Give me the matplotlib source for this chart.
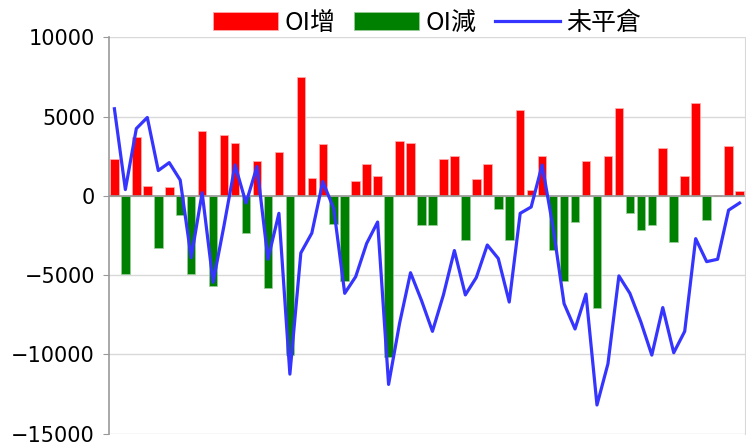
import numpy as np
import matplotlib.pyplot as plt

# OI change per day: positive part (red) and negative part (green), plus the net open-interest line
oi_inc = [2300, 0, 3700, 650, 0, 550, 0, 0, 4100, 0,
          3850, 3350, 0, 2200, 0, 2750, 0, 7500, 1150, 3250,
          0, 0, 950, 2000, 1250, 0, 3450, 3350, 0, 0,
          2300, 2500, 0, 1050, 2000, 0, 0, 5450, 400, 2500,
          0, 0, 0, 2200, 0, 2500, 5550, 0, 0, 0,
          3050, 0, 1250, 5850, 0, 50, 3150, 320]
oi_dec = [0, -4950, 0, 0, -3300, 0, -1200, -4900, 0, -5700,
          0, 0, -2350, 0, -5800, 0, -10050, 0, 0, 0,
          -1750, -5350, 0, 0, 0, -10150, 0, 0, -1850, -1850,
          0, 0, -2800, 0, 0, -800, -2800, 0, 0, 0,
          -3400, -5350, -1650, 0, -7050, 0, 0, -1100, -2150, -1850,
          0, -2900, 0, 0, -1550, 0, 0, 0]
open_pos = [5500, 400, 4250, 4950, 1600, 2100, 1000, -3900, 200, -5450,
            -1850, 1950, -450, 1850, -4000, -1100, -11250, -3600, -2350, 900,
            -800, -6150, -5100, -3000, -1650, -11900, -8050, -4850, -6600, -8550,
            -6250, -3450, -6250, -5150, -3100, -3950, -6700, -1100, -700, 1950,
            -2000, -6800, -8400, -6200, -13200, -10600, -5050, -6150, -7950, -10050,
            -7050, -9900, -8550, -2700, -4150, -4000, -900, -450]

labels = ['OI增', 'OI減', '未平倉']

x = np.arange(len(open_pos))

fig = plt.figure(figsize=(7.46, 4.44), dpi=100)
ax = fig.add_axes([0.146, 0.0236, 0.8527, 0.892])

b1 = ax.bar(x, oi_inc, width=0.78, color='#ff0000', edgecolor='#ffb0b0', linewidth=0.5,
            zorder=2)
b2 = ax.bar(x, oi_dec, width=0.78, color='#008000', edgecolor='#9ccc9c', linewidth=0.5,
            zorder=2)
ln, = ax.plot(x, open_pos, color='#3535ff', linewidth=2.3, zorder=3)

ax.axhline(0, color='#999999', linewidth=1.2, zorder=2.5)

ax.set_xlim(-0.5, len(x) - 0.5)
ax.set_ylim(-15000, 10000)
ax.set_yticks(np.arange(-15000, 10001, 5000))
ax.set_xticks([])
ax.tick_params(axis='y', labelsize=15, length=4, color='#999999', pad=6)

ax.grid(axis='y', color='#d9d9d9', linewidth=1, zorder=0)
ax.set_axisbelow(True)
ax.spines['top'].set_visible(False)
ax.spines['bottom'].set_visible(False)
ax.spines['left'].set_color('#999999')
ax.spines['left'].set_linewidth(1.2)
ax.spines['right'].set_color('#d9d9d9')

fig.legend([b1, b2, ln], labels, loc='center', bbox_to_anchor=(0.5725, 0.949), ncol=3,
           frameon=False, prop={'family': ['Noto Sans CJK TC', 'DejaVu Sans'], 'size': 18},
           handlelength=2.6, handleheight=0.75, handletextpad=0.25, columnspacing=0.75,
           borderpad=0, borderaxespad=0)

fig.savefig('out.png', dpi=100)
